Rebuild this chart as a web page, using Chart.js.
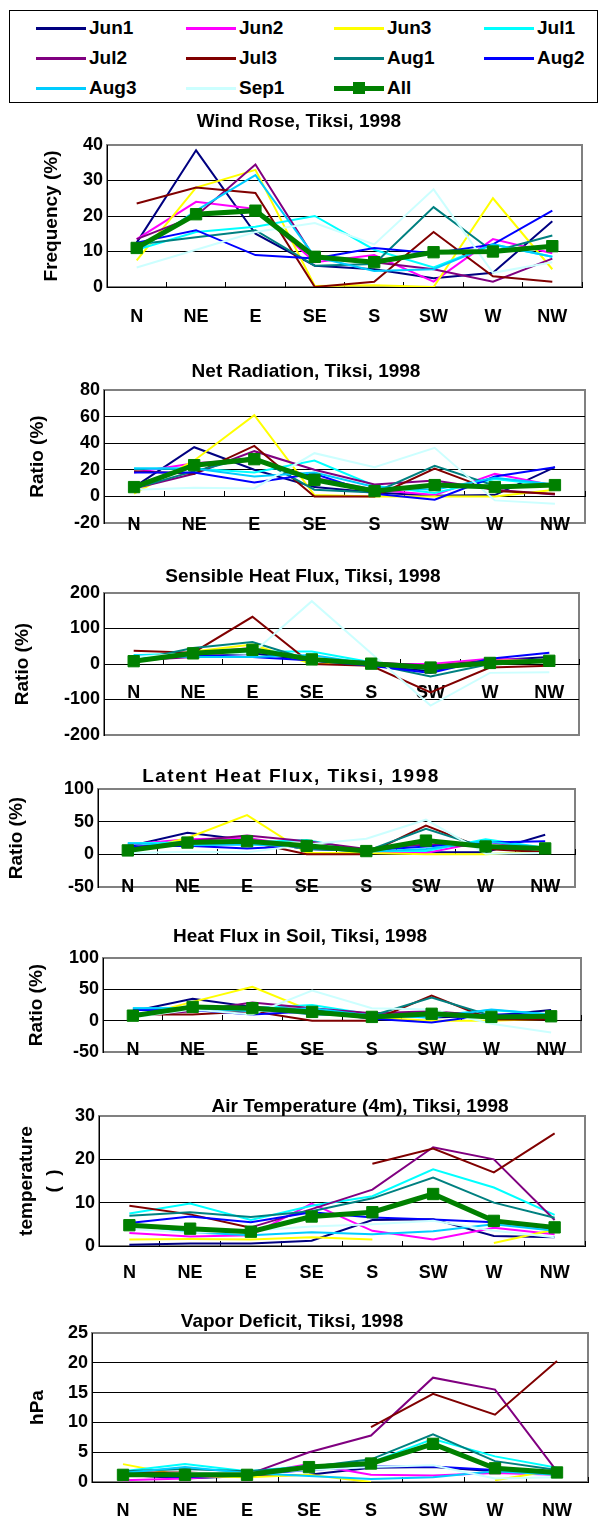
<!DOCTYPE html>
<html>
<head>
<meta charset="utf-8">
<script src="https://cdn.jsdelivr.net/npm/chart.js@4.4.1/dist/chart.umd.min.js"></script>
<style>
  body { margin: 0; width: 602px; height: 1519px; background: #fff; position: relative; overflow: hidden;
         font-family: "Liberation Sans", Arial, sans-serif; }
  #legend { position: absolute; left: 9px; top: 10px; width: 589px; height: 93px; border: 1px solid #000; box-sizing: border-box; }
  .item { position: absolute; height: 24px; }
  .swatch { position: absolute; left: 0; width: 50px; top: 11px; height: 3px; }
  .name { position: absolute; left: 53px; top: 0; line-height: 24px; font-size: 19px; font-weight: bold; color: #000; white-space: nowrap; }
  .mark { position: absolute; left: 19px; top: 6px; width: 12px; height: 12px; background: #008000; }
</style>
</head>
<body>
<div id="legend"></div>
<script>
// ---- data ----
const directions = ['N', 'NE', 'E', 'SE', 'S', 'SW', 'W', 'NW'];
const seriesNames = ['Jun1', 'Jun2', 'Jun3', 'Jul1', 'Jul2', 'Jul3', 'Aug1', 'Aug2', 'Aug3', 'Sep1', 'All'];
const seriesColors = ['#000080', '#ff00ff', '#ffff00', '#00ffff', '#800080', '#800000',
                      '#008080', '#0000ff', '#00ccff', '#ccffff', '#008000'];

// rows follow seriesNames order
const windRose = [
  [12.5, 38.5, 15, 6, 5, 2.5, 4, 18.5],
  [13.5, 24, 22, 7, 9, 1.5, 13.5, 9.5],
  [7.5, 28, 33, 0.3, 0.5, 0, 25, 5],
  [10.5, 15.5, 17, 20, 10.5, 5.5, 12, 8.5],
  [13.5, 20, 34.5, 8, 7, 5, 1.5, 8],
  [23.5, 28, 26.5, 0, 1.5, 15.5, 3, 1.5],
  [12, 14, 16, 6, 6.5, 22.5, 10, 14.5],
  [12.5, 16, 9, 8, 11, 9.5, 12, 21.5],
  [10, 21.5, 31.5, 8.5, 4.5, 5, 12, 8.5],
  [5.5, 10.5, 15.5, 18, 12, 27.5, 4, 7],
  [11, 20.5, 21.5, 8.5, 7, 9.8, 10, 11.5]
];
const netRadiation = [
  [7, 37, 20, 7, 3, 0.5, 1, 22],
  [18, 25, 28, 14, 5, 1, 17, 8],
  [2, 27, 61, 1, 0, 0, 0, 5],
  [21, 21, 18, 27, 8, 2.5, 13, 8],
  [6, 17, 34, 20, 9, 12, 5, 1.5],
  [19, 17, 38, 0, 0, 21, 4, 2],
  [6, 19, 30, 5, 3, 23, 8, 9],
  [18, 18, 10.5, 17, 2, -2.5, 15, 22],
  [21, 21, 15, 18, 7, 5, 14, 9],
  [5, 6.5, 6, 32.5, 22, 36.5, -3, -5.5],
  [7, 23.5, 28, 12.5, 4, 8.5, 7, 8.5]
];
const sensibleHeat = [
  [10, 25, 30, 10, -5, -20, 10, 20],
  [10, 30, 45, 10, 0, 0, 15, 10],
  [5, 35, 55, 0, 0, -5, 10, 10],
  [25, 30, 35, 35, 5, -10, 5, 10],
  [10, 20, 40, 15, 5, -5, 10, 5],
  [37, 32, 133, 0, -5, -80, -10, -5],
  [10, 45, 62, 10, 0, -35, 0, 10],
  [10, 25, 20, 10, -5, -25, 15, 32],
  [25, 20, 20, 25, 0, -15, 5, 10],
  [20, 30, 30, 177, 30, -117, -25, -23],
  [8, 30, 40, 13, 1, -10, 3, 9]
];
const latentHeat = [
  [12, 33, 22, 8, 5, 3, 3, 30],
  [15, 23, 25, 12, 5, 2, 20, 5],
  [3, 25, 60, 2, 2, 0, 0, 5],
  [17, 18, 18, 22, 5, 5, 23, 10],
  [7, 20, 29, 20, 8, 15, 12, 3],
  [10, 18, 20, 0, 0, 44, 8, 3],
  [8, 17, 22, 8, 5, 39, 10, 8],
  [12, 13, 9, 13, 6, 12, 18, 20],
  [17, 14, 15, 12, 4, 8, 20, 10],
  [2, 4, 3, 15, 24, 53, 1, 2],
  [6, 18, 20, 13, 5, 21, 12, 9]
];
const soilHeat = [
  [15, 35, 22, 18, 10, 5, 8, 17],
  [18, 20, 22, 12, 10, 12, 10, 5],
  [5, 30, 54, 15, 5, 0, 0, 3],
  [20, 20, 20, 25, 10, 8, 17, 10],
  [8, 15, 29, 20, 12, 15, 8, 2],
  [10, 10, 15, 0, 0, 40, 2, 2],
  [10, 20, 20, 10, 8, 37, 8, 8],
  [17, 17, 10, 15, 3, -3, 10, 10],
  [20, 20, 15, 20, 8, 5, 18, 10],
  [5, 18, 10, 48, 20, 18, -5, -19],
  [8, 22, 20, 14, 6, 11, 6, 7]
];
const airTemp = [
  [0.3, 0.6, 0.6, 1.2, 6, 6.2, 2.3, 2],
  [3, 2.2, 2.5, 9.8, 3.5, 1.5, 4.2, 2.7],
  [1.5, 1.6, 1.5, 2, 1.5, null, 0.7, 3.8],
  [7.5, 9.8, 6, 9.3, 11.5, 17.7, 13.5, 7.2],
  [null, null, 4.3, 8.5, 13, 22.8, 20, 6],
  [9.3, 7.3, 4.2, null, 19, 22.5, 17, 26],
  [7, 7.8, 6.7, 8, 11, 15.8, 10, 6.5],
  [5.3, 6.8, 5.5, 7.8, 6.6, 6.1, 5.5, 4],
  [5, 3.2, 2.5, 3.2, 2.7, 3.4, 5, 3.5],
  [4, 3, 3.5, 4.5, 5, 5.8, 3.5, 2],
  [4.8, 4, 3.3, 6.8, 7.8, 12, 5.8, 4.3]
];
const vaporDeficit = [
  [1.2, 0.6, 1.0, 1.2, 2.4, 2.5, 1.8, 1.3],
  [0.3, 0.6, 1.2, 3, 1.2, 1.1, 1.5, 1.2],
  [3, 1, 0.8, 1.2, 0, null, 0.3, 2],
  [1.8, 3, 1.8, 2.7, 3.3, 7.2, 4.3, 2.4],
  [null, null, 1.2, 5, 7.8, 17.5, 15.5, 1.8],
  [1.6, 1.6, 1.2, null, 9.2, 14.8, 11.3, 20.3],
  [1.8, 2.2, 1.8, 2.5, 3.8, 8, 3.5, 2],
  [1.2, 0.8, 1.2, 2, 2.6, 2.6, 2, 1.5],
  [1.5, 2.5, 1.5, 1, 0.5, 0.8, 1.8, 1.2],
  [1, 1.5, 1.5, 2, 2.5, 2.8, 0.6, 0.8],
  [1.2, 1.2, 1.2, 2.5, 3.1, 6.4, 2.3, 1.6]
];

const panelTitles = ['Wind Rose, Tiksi, 1998', 'Net Radiation, Tiksi, 1998', 'Sensible Heat Flux, Tiksi, 1998',
  'Latent Heat Flux, Tiksi, 1998', 'Heat Flux in Soil, Tiksi, 1998', 'Air Temperature (4m), Tiksi, 1998',
  'Vapor Deficit, Tiksi, 1998'];
const axisTitles = ['Frequency (%)', 'Ratio (%)', 'Ratio (%)', 'Ratio (%)', 'Ratio (%)', ['temperature', '(  )'], 'hPa'];
const yRanges = [[0, 40, 10], [-20, 80, 20], [-200, 200, 100], [-50, 100, 50], [-50, 100, 50], [0, 30, 10], [0, 25, 5]];
const panelData = [windRose, netRadiation, sensibleHeat, latentHeat, soilHeat, airTemp, vaporDeficit];

// ---- layout (page pixels) ----
// canvas top/bottom, title centre, plot box [left, top, right, bottom], y-title x, label gap below zero line
const layout = [
  { top: 104, bottom: 335, tx: 299, ty: 122, plot: [107, 145, 582, 287], yx: 52, gap: 30, ls: 0 },
  { top: 350, bottom: 548, tx: 306, ty: 372, plot: [104, 390, 585, 523], yx: 38, gap: 29, ls: 0 },
  { top: 555, bottom: 755, tx: 303, ty: 577, plot: [104, 593, 579, 735], yx: 23, gap: 29, ls: 0 },
  { top: 758, bottom: 912, tx: 291, ty: 777, plot: [98, 789, 575, 887], yx: 17, gap: 33, ls: 1.5 },
  { top: 915, bottom: 1076, tx: 300, ty: 937, plot: [103, 958, 581, 1052], yx: 37, gap: 29, ls: 0 },
  { top: 1085, bottom: 1292, tx: 360, ty: 1107, plot: [99, 1116, 585, 1246], yx: 27, gap: 27, ls: 0 },
  { top: 1300, bottom: 1519, tx: 292, ty: 1322, plot: [92, 1333, 588, 1482], yx: 38, gap: 29, ls: 0 }
];

Chart.defaults.font.family = '"Liberation Sans", Arial, sans-serif';
Chart.defaults.color = '#000';

// legend
const legendCols = [26, 176, 324, 474];
const legendRows = [5, 35, 65];
const legendEl = document.getElementById('legend');
seriesNames.forEach((name, i) => {
  const it = document.createElement('div');
  it.className = 'item';
  it.style.left = legendCols[i % 4] + 'px';
  it.style.top = legendRows[Math.floor(i / 4)] + 'px';
  const sw = document.createElement('div');
  sw.className = 'swatch';
  sw.style.background = seriesColors[i];
  if (name === 'All') { sw.style.height = '5px'; sw.style.top = '10px'; }
  it.appendChild(sw);
  if (name === 'All') {
    const m = document.createElement('div');
    m.className = 'mark';
    it.appendChild(m);
  }
  const t = document.createElement('div');
  t.className = 'name';
  t.textContent = name;
  it.appendChild(t);
  legendEl.appendChild(it);
});

// grey plot frame + panel title
const panelDecor = {
  id: 'panelDecor',
  beforeDraw(chart) {
    const { ctx, chartArea: a } = chart;
    ctx.save();
    ctx.strokeStyle = '#808080';
    ctx.lineWidth = 2;
    ctx.strokeRect(a.left, a.top, a.right - a.left, a.bottom - a.top);
    ctx.restore();
  },
  afterDraw(chart, args, opts) {
    const ctx = chart.ctx;
    ctx.save();
    ctx.font = 'bold 19px "Liberation Sans", Arial, sans-serif';
    if (opts.spacing) ctx.letterSpacing = opts.spacing + 'px';
    ctx.fillStyle = '#000';
    ctx.textAlign = 'center';
    ctx.textBaseline = 'middle';
    ctx.fillText(opts.text, opts.x, opts.y);
    ctx.restore();
  }
};

layout.forEach((p, k) => {
  const h = p.bottom - p.top;
  const canvas = document.createElement('canvas');
  canvas.width = 602;
  canvas.height = h;
  canvas.style.cssText = `position:absolute;left:0;top:${p.top}px;width:602px;height:${h}px`;
  document.body.appendChild(canvas);

  const [yMin, yMax, yStep] = yRanges[k];
  const multi = Array.isArray(axisTitles[k]);
  const titleLH = multi ? 1.4 : 1.2;

  const datasets = panelData[k].map((vals, i) => {
    const all = seriesNames[i] === 'All';
    return {
      label: seriesNames[i],
      data: vals,
      borderColor: seriesColors[i],
      backgroundColor: seriesColors[i],
      borderWidth: all ? 5 : 2,
      pointRadius: all ? 8 : 0,
      pointStyle: 'rect',
      pointBorderWidth: 1,
      tension: 0,
      spanGaps: false,
      order: seriesNames.length - 1 - i
    };
  });

  new Chart(canvas, {
    type: 'line',
    data: { labels: directions, datasets },
    options: {
      responsive: false,
      animation: false,
      devicePixelRatio: 1,
      layout: { padding: { left: 0, right: 602 - p.plot[2], top: p.plot[1] - p.top, bottom: p.bottom - p.plot[3] } },
      plugins: {
        legend: { display: false },
        tooltip: { enabled: false },
        panelDecor: { text: panelTitles[k], x: p.tx, y: p.ty - p.top, spacing: p.ls }
      },
      scales: {
        x: {
          type: 'category',
          position: { y: 0 },
          offset: true,
          grid: { offset: true, drawOnChartArea: false, drawTicks: true, tickLength: -6, tickColor: '#000', tickWidth: 1 },
          border: { color: '#000', width: 1 },
          ticks: { color: '#000', font: { size: 18, weight: 'bold' }, padding: p.gap - 10.8 + 6, maxRotation: 0, autoSkip: false }
        },
        y: {
          min: yMin,
          max: yMax,
          ticks: { stepSize: yStep, color: '#000', font: { size: 18, weight: 'bold' }, padding: 4 },
          grid: {
            drawTicks: false,
            lineWidth: 1,
            color: c => (c.tick && (c.tick.value === yMin || c.tick.value === yMax)) ? 'rgba(0,0,0,0)' : '#000'
          },
          border: { color: '#000', width: 1 },
          title: {
            display: true,
            text: axisTitles[k],
            color: '#000',
            font: { size: 19, weight: 'bold', lineHeight: titleLH },
            padding: { top: p.yx - 19 * titleLH / 2, bottom: 0 }
          },
          afterFit: s => { s.width = p.plot[0]; }
        }
      }
    },
    plugins: [panelDecor]
  });
});
</script>
</body>
</html>
